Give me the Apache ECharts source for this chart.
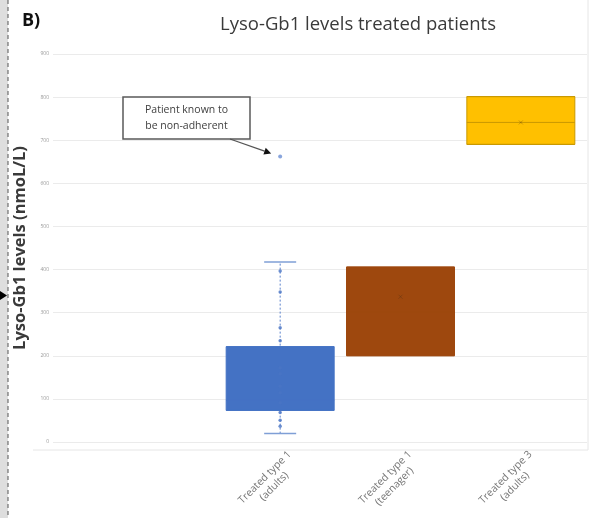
<!DOCTYPE html>
<html><head><meta charset="utf-8">
<script src="https://cdn.jsdelivr.net/npm/echarts@6/dist/echarts.min.js"></script>
<style>html,body{margin:0;padding:0;background:#fff}#c{width:589px;height:518px}</style>
</head><body><div id="c"></div>
<script>
// ---- data ----
const categories = ['Treated type 1\n(adults)', 'Treated type 1\n(teenager)', 'Treated type 3\n(adults)'];
// [min, Q1, median, Q3, max]
const boxStats = [
  [18, 72, 95, 220, 417],
  [199, 199, 300, 405, 405],
  [690, 690, 741, 801, 801]
];
const boxColors = ['#4472C4', '#9E480E', '#FFC000'];
const means = [158, 336, 741];
const type1AdultPoints = [396, 347, 264, 234, 171, 157, 128, 113, 90, 67, 49, 35];
const outlier = [662];
const yTicks = [0, 100, 200, 300, 400, 500, 600, 700, 800, 900];

const chart = echarts.init(document.getElementById('c'), null, {renderer: 'canvas'});
const FONT = '"Open Sans", "Liberation Sans", sans-serif';

const option = {
  animation: false,
  backgroundColor: '#fff',
  title: {
    text: 'Lyso-Gb1 levels treated patients',
    left: 353, top: 10, textAlign: 'center',
    textStyle: {fontFamily: FONT, fontSize: 18.5, fontWeight: 'normal', color: '#3a3a3a'}
  },
  grid: [
    {left: 53, right: 2, top: 54, bottom: 76},
    {left: 220, right: 8, top: 54, bottom: 76}
  ],
  xAxis: [
    {type: 'category', gridIndex: 0, data: [''], axisLine: {show: false}, axisTick: {show: false}, axisLabel: {show: false}},
    {type: 'category', gridIndex: 1, data: categories,
     axisLine: {show: false}, axisTick: {show: false},
     axisLabel: {rotate: 45, margin: 30, fontSize: 10.4, lineHeight: 13, color: '#767676', fontFamily: FONT,
                 align: 'center', verticalAlign: 'middle', padding: [0, 30, 0, 0], interval: 0}}
  ],
  yAxis: [
    {type: 'value', gridIndex: 0, min: 0, max: 900, interval: 100,
     data: yTicks,
     axisLine: {show: false}, axisTick: {show: false},
     axisLabel: {fontSize: 5, color: '#9a9a9a', margin: 4, fontFamily: FONT},
     splitLine: {lineStyle: {color: '#ebebeb', width: 1}},
     name: 'Lyso-Gb1 levels (nmoL/L)', nameLocation: 'middle', nameGap: 24, nameRotate: 90,
     nameTextStyle: {fontFamily: FONT, fontSize: 16.5, fontWeight: 'bold', color: '#3a3a3a'}},
    {type: 'value', gridIndex: 1, min: 0, max: 900, interval: 100, show: false}
  ],
  series: [
    {
      type: 'custom', xAxisIndex: 1, yAxisIndex: 1, z: 2,
      data: boxStats.map((s, i) => [i, s[0], s[4]]).filter((d, i) => boxStats[i][0] < boxStats[i][1]),
      renderItem: function (params, api) {
        const x = api.value(0);
        const p1 = api.coord([x, api.value(1)]);
        const p2 = api.coord([x, api.value(2)]);
        const cw = 16;
        return {type: 'group', children: [
          {type: 'line', shape: {x1: p1[0], y1: p1[1], x2: p2[0], y2: p2[1]},
           style: {stroke: '#5b82cc', lineWidth: 1, lineDash: [2, 2]}},
          {type: 'line', shape: {x1: p1[0] - cw, y1: p1[1], x2: p1[0] + cw, y2: p1[1]},
           style: {stroke: '#7f9fd6', lineWidth: 1.5}},
          {type: 'line', shape: {x1: p2[0] - cw, y1: p2[1], x2: p2[0] + cw, y2: p2[1]},
           style: {stroke: '#7f9fd6', lineWidth: 1.5}}
        ]};
      }
    },
    {
      type: 'boxplot', xAxisIndex: 1, yAxisIndex: 1, z: 3,
      boxWidth: [108, 108],
      data: boxStats.map((s, i) => ({
        value: [s[1], s[1], s[2], s[3], s[3]],
        itemStyle: {color: boxColors[i], borderColor: i === 2 ? '#c99800' : boxColors[i], borderWidth: 1}
      }))
    },
    {
      type: 'scatter', xAxisIndex: 1, yAxisIndex: 1, z: 4,
      symbolSize: 3.5,
      itemStyle: {color: '#4a74c4'},
      data: type1AdultPoints.map(v => [0, v])
    },
    {
      type: 'scatter', xAxisIndex: 1, yAxisIndex: 1, z: 4,
      symbolSize: 4,
      itemStyle: {color: '#6b8fd3'},
      data: outlier.map(v => [0, v])
    },
    {
      type: 'scatter', xAxisIndex: 1, yAxisIndex: 1, z: 5,
      symbol: 'path://M0,0L10,10M10,0L0,10', symbolSize: 4,
      itemStyle: {color: 'none', borderColor: 'rgba(60,40,20,0.35)', borderWidth: 1},
      data: means.map((v, i) => [i, v]).filter(d => d[0] !== 0)
    }
  ]
};
chart.setOption(option);

// annotation pointing at the outlier (position from the axes)
const op = chart.convertToPixel({xAxisIndex: 1, yAxisIndex: 1}, [0, outlier[0]]);
const tip = [op[0] - 9, op[1] - 3];
const boxX = 123, boxY = 97, boxW = 127, boxH = 42;
const start = [230, boxY + boxH];
const ang = Math.atan2(tip[1] - start[1], tip[0] - start[0]);
const ah = 7, aw = 3.5;
const base = [tip[0] - ah * Math.cos(ang), tip[1] - ah * Math.sin(ang)];
chart.setOption({
  graphic: [
    {type: 'rect', left: 0, top: 0, shape: {x: 0, y: 0, width: 8, height: 518}, style: {fill: '#dedede'}, z: 0},
    {type: 'line', shape: {x1: 8, y1: 0, x2: 8, y2: 518}, style: {stroke: '#555', lineWidth: 1, lineDash: [4, 3]}, z: 1},
    {type: 'polygon', shape: {points: [[0, 291], [7, 295.5], [0, 300]]}, style: {fill: '#000'}, z: 2},
    {type: 'polyline', shape: {points: [[33, 450], [588, 450], [588, 0]]}, style: {stroke: '#e6e6e6', lineWidth: 1, fill: 'none'}, z: 1},
    {type: 'text', x: 22, y: 12, style: {text: 'B)', font: 'bold 18px ' + FONT, fill: '#111'}, z: 5},
    {type: 'rect', shape: {x: boxX, y: boxY, width: boxW, height: boxH}, style: {fill: '#fff', stroke: '#5a5a5a', lineWidth: 1.5}, z: 10},
    {type: 'text', x: boxX + boxW / 2, y: boxY + boxH / 2,
     style: {text: 'Patient known to\nbe non-adherent', font: '10.5px ' + FONT, fill: '#404040', align: 'center', verticalAlign: 'middle', lineHeight: 16}, z: 11},
    {type: 'line', shape: {x1: start[0], y1: start[1], x2: base[0], y2: base[1]}, style: {stroke: '#555', lineWidth: 1.2}, z: 10},
    {type: 'polygon', shape: {points: [tip,
      [base[0] + aw * Math.sin(ang), base[1] - aw * Math.cos(ang)],
      [base[0] - aw * Math.sin(ang), base[1] + aw * Math.cos(ang)]]}, style: {fill: '#111'}, z: 10}
  ]
});
</script></body></html>
